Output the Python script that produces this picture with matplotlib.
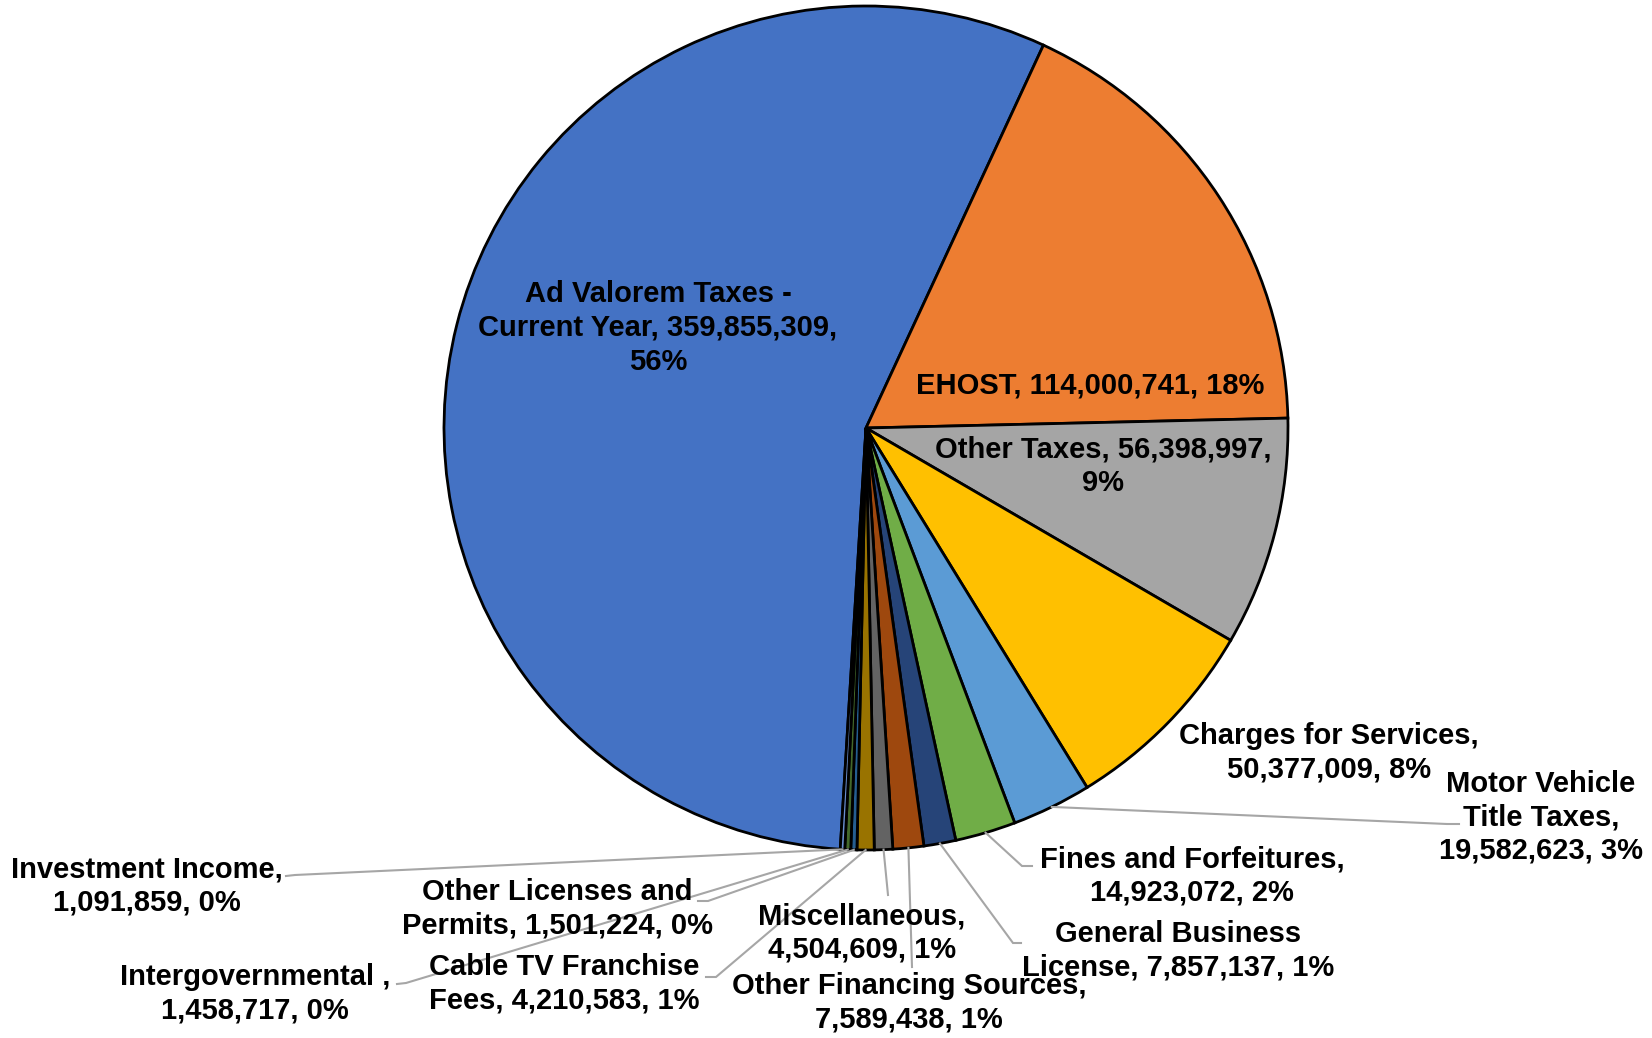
import numpy as np
import matplotlib
matplotlib.use("Agg")
import matplotlib.pyplot as plt

plt.rcParams["font.family"] = ["Liberation Sans", "DejaVu Sans"]

W, H = 1652, 1038

categories = ["Ad Valorem Taxes -\nCurrent Year", "EHOST", "Other Taxes",
              "Charges for Services", "Motor Vehicle\nTitle Taxes",
              "Fines and Forfeitures", "General Business\nLicense",
              "Other Financing Sources", "Miscellaneous",
              "Cable TV Franchise\nFees", "Other Licenses and\nPermits",
              "Intergovernmental ", "Investment Income"]
values = [359855309, 114000741, 56398997, 50377009, 19582623, 14923072,
          7857137, 7589438, 4504609, 4210583, 1501224, 1458717, 1091859]
colors = ["#4472C4", "#ED7D31", "#A5A5A5", "#FFC000", "#5B9BD5", "#70AD47",
          "#264478", "#9E480E", "#636363", "#997300", "#255E91", "#43682B",
          "#698ED0"]

# label text as printed on the chart (line breaks follow the reference)
label_text = [
    "Ad Valorem Taxes -\nCurrent Year, 359,855,309,\n56%",
    "EHOST, 114,000,741, 18%",
    "Other Taxes, 56,398,997,\n9%",
    "Charges for Services,\n50,377,009, 8%",
    "Motor Vehicle\nTitle Taxes,\n19,582,623, 3%",
    "Fines and Forfeitures,\n14,923,072, 2%",
    "General Business\nLicense, 7,857,137, 1%",
    "Other Financing Sources,\n7,589,438, 1%",
    "Miscellaneous,\n4,504,609, 1%",
    "Cable TV Franchise\nFees, 4,210,583, 1%",
    "Other Licenses and\nPermits, 1,501,224, 0%",
    "Intergovernmental ,\n1,458,717, 0%",
    "Investment Income,\n1,091,859, 0%",
]

# label centres (pixels, y from top)
label_pos = [(658, 328), (1090, 385), (1103, 466), (1329, 753), (1541, 817),
             (1192, 876), (1178, 951), (909, 1003), (862, 933), (564, 984),
             (557, 909), (255, 994), (147, 886)]

# leader line end near label, and stub end (None = no leader)
leaders = [None, None, None, None,
           ((1447, 824), (1459, 824)),
           ((1022, 866), (1032, 866)),
           ((1013, 943), (1021, 943)),
           ((912, 967), (912, 967)),
           ((888, 895), (888, 895)),
           ((716, 977), (706, 977)),
           ((708, 901), (698, 901)),
           ((406, 983), (397, 984)),
           ((295, 875), (286, 876))]

CX, CY, R = 866, 428, 422


def up(p):
    return p[0], H - p[1]


fig = plt.figure(figsize=(W / 100, H / 100), dpi=100)
ax = fig.add_axes([0, 0, 1, 1])
wedges, _ = ax.pie(values, colors=colors, startangle=-93.5, counterclock=False,
                   center=(CX, H - CY), radius=R, frame=True,
                   wedgeprops=dict(edgecolor="black", linewidth=2.0))
ax.set_xlim(0, W)
ax.set_ylim(0, H)
ax.axis("off")

for w, txt, pos, ld in zip(wedges, label_text, label_pos, leaders):
    if ld is not None:
        mid = np.deg2rad((w.theta1 + w.theta2) / 2)
        sx = CX + R * np.cos(mid)
        sy = (H - CY) + R * np.sin(mid)
        a, b = up(ld[0]), up(ld[1])
        ax.plot([sx, a[0], b[0]], [sy, a[1], b[1]], color="#A6A6A6", lw=1.5,
                solid_joinstyle="miter", zorder=3)
    x, y = up(pos)
    ax.text(x, y, txt, ha="center", va="center", ma="center", fontsize=21,
            fontweight="bold", color="black", linespacing=1.25, zorder=4)

fig.savefig("out.png", dpi=100)
